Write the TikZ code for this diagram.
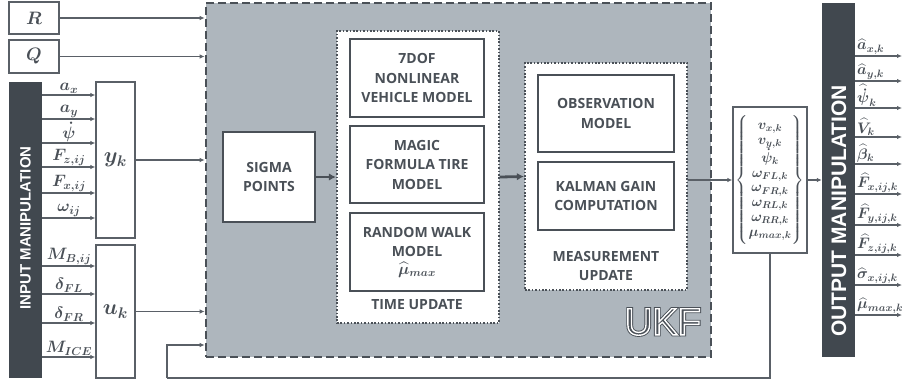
\RequirePackage{fix-cm}
\documentclass[tikz,border=0pt]{standalone}
\usepackage{amsmath}
\usepackage[no-math]{fontspec}
\newfontfamily\osans{Open Sans}
\newfontfamily\lsans{Liberation Sans}
\usetikzlibrary{arrows.meta,calc}
\definecolor{barc}{HTML}{41484F}
\definecolor{boxc}{HTML}{4A5057}
\definecolor{ukfc}{HTML}{AEB6BD}
\definecolor{linec}{HTML}{5A6067}
\newcommand\boxtxt{\osans\bfseries\fontsize{14}{19.5}\selectfont}
\newcommand\mlab{\fontsize{16.5}{18}\selectfont\boldmath}
\newcommand\olab{\fontsize{15.2}{16}\selectfont\boldmath}
\newcommand\outl[2]{\special{pdf:literal direct #1 w 1 Tr}#2\special{pdf:literal direct 0 Tr}}
\tikzset{
  arr/.style={draw=linec, line width=1.1pt, -{Latex[length=5pt,width=4.5pt]}},
  bigarr/.style={draw=boxc, line width=2.8pt, -{Latex[length=7pt,width=7.5pt]}},
  thinbox/.style={draw=linec, line width=1.3pt, fill=white, inner sep=0pt},
  thickbox/.style={draw=boxc, line width=2.8pt, fill=white, inner sep=0pt, align=center, font=\boxtxt, text=boxc},
  dotbox/.style={draw=boxc, line width=2.2pt, dash pattern=on 1.6pt off 1.8pt, fill=white, inner sep=0pt},
  darkbar/.style={fill=barc, draw=none, inner sep=0pt},
  lbl/.style={inner sep=1pt, font=\mlab, text=boxc},
  olbl/.style={inner sep=1pt, font=\olab, text=boxc},
}
\begin{document}
\begin{tikzpicture}[x=1pt,y=-1pt]
\useasboundingbox (0,0) rectangle (902,383);
% UKF box
\node[draw=boxc, line width=2.6pt, dash pattern=on 8pt off 4pt, fill=ukfc, minimum width=505pt, minimum height=354pt, inner sep=0pt] (ukf) at (458.5,180) {};
\node[font=\lsans\fontsize{38}{38}\selectfont, inner sep=0pt] (ukft) at (663,322) {\color{boxc}\outl{3.2}{UKF}};
\node[font=\lsans\fontsize{38}{38}\selectfont, inner sep=0pt] (ukft2) at (663,322) {\color{white}\outl{1.4}{UKF}};
% R, Q
\node[thinbox, minimum width=50pt, minimum height=32pt, font=\fontsize{18}{18}\selectfont\boldmath, text=boxc] (R) at (34,18) {$R$};
\node[thinbox, minimum width=50pt, minimum height=33pt, font=\fontsize{18}{18}\selectfont\boldmath, text=boxc] (Q) at (34,56.5) {$Q$};
% input bar
\node[darkbar, minimum width=33pt, minimum height=296pt] (inbar) at (25.5,230) {};
\node[rotate=90, font=\lsans\bfseries\fontsize{15}{15}\selectfont, text=white] (intxt) at (25.5,228) {INPUT MANIPULATION};
\node[thinbox, minimum width=39pt, minimum height=156pt, font=\fontsize{22}{22}\selectfont\boldmath, text=boxc] (yk) at (115.5,160) {$y_k$};
\node[thinbox, minimum width=39pt, minimum height=133pt, font=\fontsize{22}{22}\selectfont\boldmath, text=boxc] (uk) at (115.5,311.5) {$u_k$};
% input arrows
\foreach \yy/\tx [count=\i] in {95/{a_x},119/{a_y},143/{\dot{\psi}},167/{F_{z,ij}},193/{F_{x,ij}},218/{\omega_{ij}}}{
  \coordinate (iy\i) at (42,\yy);
  \draw[arr] (iy\i) -- (iy\i -| yk.west);
  \node[lbl, anchor=south] (ly\i) at (69,\yy-0.5) {$\tx$};
}
\foreach \yy/\tx [count=\i] in {266/{M_{B,ij}},294/{\delta_{FL}},323/{\delta_{FR}},357/{M_{ICE}}}{
  \coordinate (iu\i) at (42,\yy);
  \draw[arr] (iu\i) -- (iu\i -| uk.west);
  \node[lbl, anchor=south] (lu\i) at (69,\yy-0.5) {$\tx$};
}
% arrows into UKF
\draw[arr] (R.east) -- (R.east -| ukf.west);
\draw[arr] (Q.east) -- (Q.east -| ukf.west);
\draw[arr] (yk.east) -- (yk.east -| ukf.west);
\draw[arr] (uk.east) -- (uk.east -| ukf.west);
% inner boxes
\node[thickbox, minimum width=92pt, minimum height=90pt] (sigma) at (269,177) {SIGMA\\POINTS};
\node[dotbox, minimum width=162pt, minimum height=292pt] (tu) at (418,177) {};
\node[thickbox, minimum width=134pt, minimum height=78pt] (dof) at (417,78) {7DOF\\NONLINEAR\\VEHICLE MODEL};
\node[thickbox, minimum width=134pt, minimum height=77pt] (magic) at (417,164.5) {MAGIC\\FORMULA TIRE\\MODEL};
\node[thickbox, minimum width=134pt, minimum height=78pt] (rw) at (417,252) {RANDOM WALK\\MODEL\\[-2pt]{\normalfont\fontsize{16}{16}\selectfont\boldmath$\widehat{\mu}_{max}$}};
\node[font=\boxtxt, text=boxc, inner sep=0pt] (tut) at (417,305) {TIME UPDATE};
\node[dotbox, minimum width=162pt, minimum height=227pt] (mu) at (606,176.5) {};
\node[thickbox, minimum width=136pt, minimum height=77pt] (obs) at (606,113.5) {OBSERVATION\\MODEL};
\node[thickbox, minimum width=136pt, minimum height=68pt] (kal) at (606,196) {KALMAN GAIN\\COMPUTATION};
\node[font=\boxtxt, text=boxc, inner sep=0pt, align=center] (mut) at (606,266) {MEASUREMENT\\UPDATE};
\draw[bigarr] (sigma.east) -- (tu.west);
\draw[bigarr] (tu.east) -- (mu.west);
% state box
\node[thinbox, minimum width=74pt, minimum height=146pt, text=boxc, font=\fontsize{14.2}{14.8}\selectfont\boldmath] (state) at (770,180) {$\left\{\vcenter{\hbox{\rule{0pt}{126pt}}}\renewcommand{\arraystretch}{1}\begin{array}{@{}c@{}}v_{x,k}\\ v_{y,k}\\ \dot{\psi}_k\\ \omega_{FL,k}\\ \omega_{FR,k}\\ \omega_{RL,k}\\ \omega_{RR,k}\\ \mu_{max,k}\end{array}\right\}$};
\draw[arr] (mu.east |- state.west) -- (state.west);
% output bar
\node[darkbar, minimum width=33pt, minimum height=354pt] (outbar) at (838.5,180) {};
\node[rotate=90, font=\lsans\bfseries\fontsize{21}{21}\selectfont, text=white] (outtxt) at (839,211) {OUTPUT MANIPULATION};
\draw[arr] (state.east) -- (state.east -| outbar.west);
\foreach \yy/\tx [count=\i] in {56/{\widehat{a}_{x,k}},81/{\widehat{a}_{y,k}},108/{\widehat{\dot{\psi}}_k},137/{\widehat{V}_k},164/{\widehat{\beta}_k},194/{\widehat{F}_{x,ij,k}},225/{\widehat{F}_{y,ij,k}},255/{\widehat{F}_{z,ij,k}},285/{\widehat{\sigma}_{x,ij,k}},315/{\widehat{\mu}_{max,k}}}{
  \coordinate (o\i) at (902,\yy);
  \draw[arr] (outbar.east |- o\i) -- (o\i);
  \node[olbl, anchor=south west] (lo\i) at (856,\yy-0.5) {$\tx$};
}
% feedback
\coordinate (fbc) at (167,378);
\coordinate (fbin) at (200,345);
\draw[draw=linec, line width=1.1pt] (state.south) |- (fbc);
\draw[arr] (fbc) |- (fbin -| ukf.west);
\end{tikzpicture}
\end{document}
